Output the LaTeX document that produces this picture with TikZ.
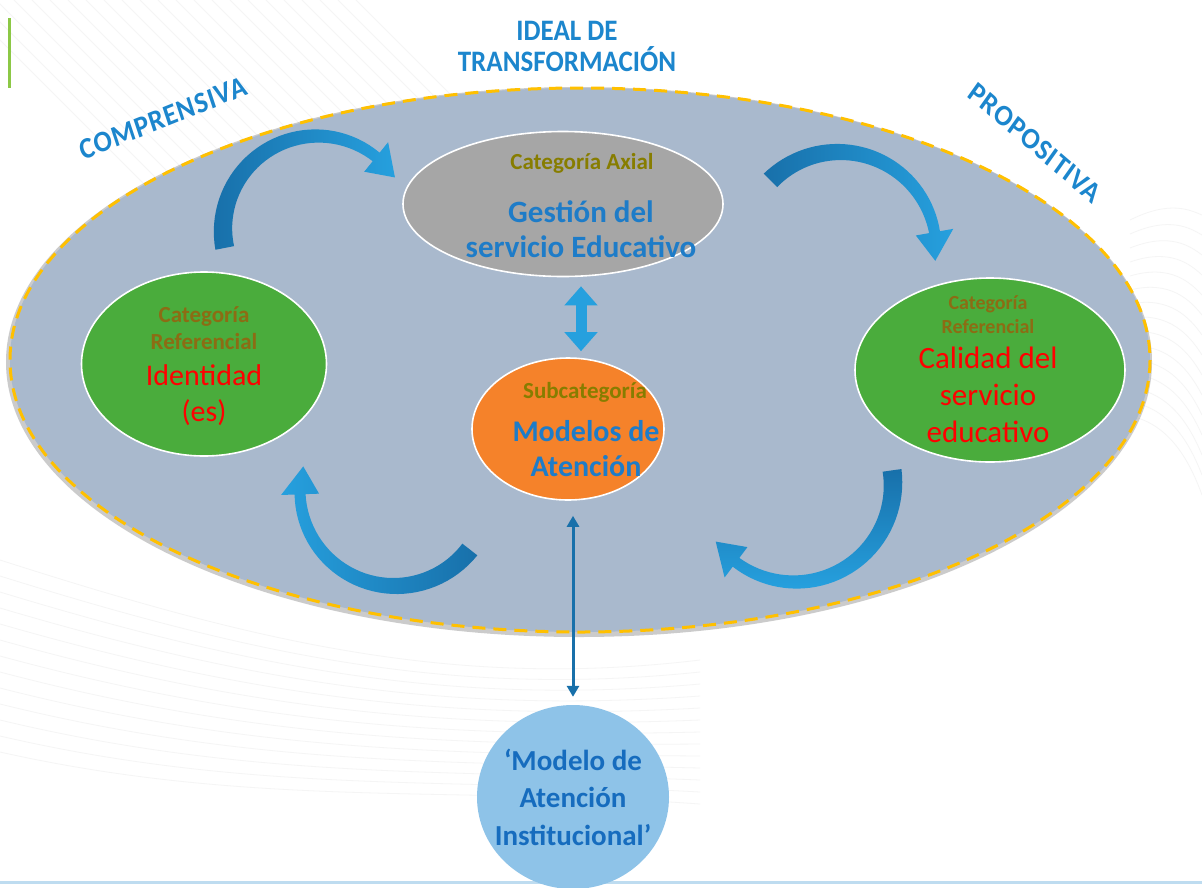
\documentclass[tikz,border=0pt]{standalone}
\usepackage{fontspec}
\setmainfont{Carlito}
\newfontfamily\headfont[LetterSpace=3]{Carlito}
\usetikzlibrary{arrows.meta,shapes.geometric}
\definecolor{panel}{RGB}{169,185,205}
\definecolor{rimgold}{RGB}{255,192,0}
\definecolor{axgray}{RGB}{166,166,166}
\definecolor{suborange}{RGB}{245,130,42}
\definecolor{refgreen}{RGB}{74,172,60}
\definecolor{instblue}{RGB}{142,195,232}
\definecolor{txtblue}{RGB}{30,124,200}
\definecolor{deepblue}{RGB}{22,108,190}
\definecolor{olive}{RGB}{135,125,0}
\definecolor{brownolive}{RGB}{140,108,20}
\definecolor{arrowblue}{RGB}{38,160,222}
\definecolor{arrowdark}{RGB}{24,112,170}
\definecolor{headblue}{RGB}{28,134,205}

% tapered circular arrow: centre (#1,#2), radius #3, tail angle #4,
% head base angle #5, tip angle #6, fill options #7
\newcommand\ribbonarrow[7]{%
  \shade[#7]
    plot[domain=#4:#5, samples=40]
      ({#1+(#3+9.5-4*(\x-#4)/(#5-#4))*cos(\x)},{#2+(#3+9.5-4*(\x-#4)/(#5-#4))*sin(\x)})
    -- ({#1+(#3+19)*cos(#5)},{#2+(#3+19)*sin(#5)})
    -- ({#1+#3*cos(#6)},{#2+#3*sin(#6)})
    -- ({#1+(#3-19)*cos(#5)},{#2+(#3-19)*sin(#5)})
    -- plot[domain=#5:#4, samples=40]
      ({#1+(#3-9.5+4*(\x-#4)/(#5-#4))*cos(\x)},{#2+(#3-9.5+4*(\x-#4)/(#5-#4))*sin(\x)})
    -- cycle;}

\begin{document}
\begin{tikzpicture}[x=1pt,y=-1pt,
  catnode/.style={ellipse, draw=white, line width=1.6pt, inner sep=0pt},
  bluelab/.style={font=\bfseries\fontsize{31}{35}\selectfont, text=txtblue, align=center},
  heading/.style={font=\headfont\bfseries\fontsize{27}{30}\selectfont, text=headblue, yscale=1.1},
]
\useasboundingbox (0,0) rectangle (1202,887);
\fill[white] (0,0) rectangle (1202,887);

% faint background texture
\begin{scope}[draw=black!4, line width=0.8pt]
  \foreach \i in {0,...,22}
    \draw (\i*18-40,0) -- (\i*18-40+300,300);
  \foreach \i in {0,...,14}
    \draw (1130,220+\i*14) .. controls (1170,200+\i*16) and (1190,210+\i*18) .. (1202,215+\i*20);
  \foreach \i in {0,...,12}
    \draw (0,560+\i*16) .. controls (250,640+\i*14) and (450,690+\i*8) .. (700,660+\i*12);
\end{scope}

% side and bottom rules
\draw[line width=3pt, draw={rgb,255:red,140;green,200;blue,70}] (9,18) -- (9,88);
\draw[line width=3pt, draw={rgb,255:red,190;green,220;blue,240}] (0,882) -- (1202,882);

% outer panel
\fill[black!40, opacity=0.5] (579,362) ellipse [x radius=573, y radius=275];
\fill[panel] (580,360) ellipse [x radius=570, y radius=272];
\draw[rimgold, line width=3pt, dash pattern=on 13pt off 8pt] (580,360) ellipse [x radius=570, y radius=272];

% headings
\node[heading, font=\bfseries\fontsize{27}{30}\selectfont] (ideal) at (567,31) {IDEAL DE};
\node[heading, font=\bfseries\fontsize{27}{30}\selectfont] (transf) at (567,59) {TRANSFORMACIÓN};
\node[heading, rotate=20] (compr) at (163,118) {COMPRENSIVA};
\node[heading, rotate=-38] (propo) at (1035,143) {PROPOSITIVA};

% category nodes
\node[catnode, fill=axgray, minimum width=320pt, minimum height=145pt] (axial) at (563,204) {};
\node[font=\bfseries\fontsize{23}{26}\selectfont, text=olive] (axialcap) at (582,163) {Categoría Axial};
\node[bluelab] (axialtxt) at (581,229) {Gestión del\\servicio Educativo};

\node[catnode, fill=suborange, minimum width=192pt, minimum height=142pt] (sub) at (568,429) {};
\node[font=\bfseries\fontsize{23}{26}\selectfont, text=olive] (subcap) at (585,392) {Subcategoría};
\node[bluelab, font=\bfseries\fontsize{30}{35}\selectfont] (subtxt) at (586,449) {Modelos de\\Atención};

\node[catnode, fill=refgreen, minimum width=245pt, minimum height=184pt] (ident) at (204,364) {};
\node[font=\bfseries\fontsize{23}{27}\selectfont, text=brownolive, align=center] (identcap) at (204,328) {Categoría\\Referencial};
\node[font=\fontsize{30}{36}\selectfont, text=red, align=center] (identtxt) at (204,395) {Identidad\\(es)};

\node[catnode, fill=refgreen, minimum width=270pt, minimum height=184pt] (calid) at (990,370) {};
\node[font=\bfseries\fontsize{20}{24}\selectfont, text=brownolive, align=center] (calidcap) at (988,315) {Categoría\\Referencial};
\node[font=\fontsize{31}{37}\selectfont, text=red, align=center] (calidtxt) at (988,395) {Calidad del\\servicio\\educativo};

\node[ellipse, fill=instblue, minimum width=192pt, minimum height=184pt, inner sep=0pt] (inst) at (573,797) {};
\node[bluelab, text=deepblue, font=\bfseries\fontsize{29}{37.5}\selectfont] (insttxt) at (573,797) {‘Modelo de\\Atención\\Institucional’};

% links between central nodes
\draw[draw=arrowblue, line width=11pt, {Triangle[width=32pt,length=19pt]}-{Triangle[width=32pt,length=19pt]}]
  ([yshift=-9pt]axial.south -| 581,0) -- ([yshift=6pt]sub.north -| 581,0);
\draw[draw=arrowdark, line width=3pt, {Triangle[width=12pt,length=11pt]}-{Triangle[width=12pt,length=11pt]}]
  ([yshift=-15pt]sub.south -| 573,0) -- ([yshift=8pt]inst.north);

% circulating arrows
\ribbonarrow{317}{230}{94}{169}{309}{326}{left color=arrowdark, right color=arrowblue}
\ribbonarrow{839}{249}{97}{225}{350}{367}{left color=arrowdark, right color=arrowblue}
\ribbonarrow{795}{484}{98}{-8}{127}{144}{top color=arrowdark, bottom color=arrowblue}
\ribbonarrow{395}{491}{95}{38}{178}{195}{left color=arrowblue, right color=arrowdark}
\end{tikzpicture}
\end{document}
